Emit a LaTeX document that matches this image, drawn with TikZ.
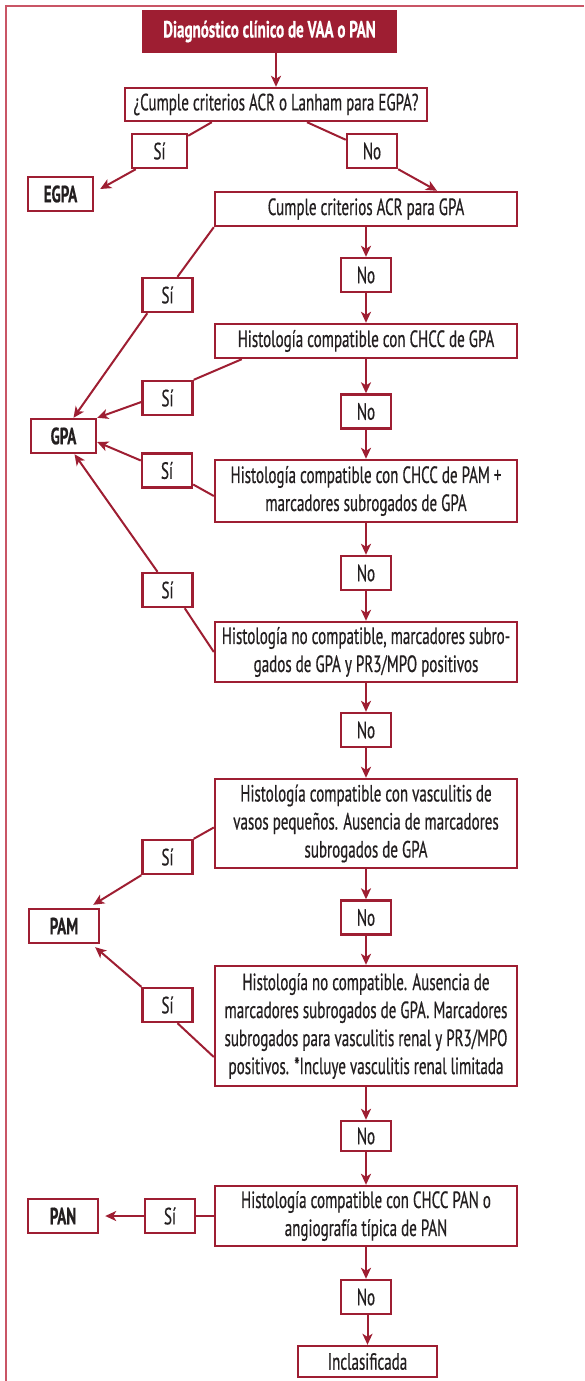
\documentclass[tikz,border=0pt]{standalone}
\usepackage{fontspec}
\setmainfont{PT Sans}[FakeStretch=0.64, FakeBold=0.5]
\usepackage{tikz}
\usetikzlibrary{calc, arrows.meta}
\definecolor{vred}{HTML}{9E1E32}
\definecolor{fred}{HTML}{C95566}
\definecolor{ink}{HTML}{231F20}

\begin{document}
\begin{tikzpicture}[x=1pt, y=-1pt,
  box/.style={draw=vred, line width=2.4pt, fill=white, text=ink, align=center, inner sep=0pt, font=\fontsize{23.5}{28}\selectfont},
  crit/.style={box, minimum width=302pt},
  yn/.style={box, minimum width=50pt, minimum height=34pt},
  res/.style={box, minimum height=34pt, font=\fontsize{23.5}{28}\selectfont\bfseries},
  link/.style={vred, line width=2pt},
  arr/.style={link, -{Stealth[length=11pt, width=10pt, inset=3pt]}}]
\useasboundingbox (0,0) rectangle (584,1381);
\draw[fred, line width=1.5pt] (584,6) -- (6,6) -- (6,1381);

\node[box, fill=vred, text=white, minimum width=253pt, minimum height=41pt, font=\fontsize{23.5}{28}\selectfont\bfseries] (title) at (269.5,31.5) {Diagnóstico clínico de VAA o PAN};
\node[crit, minimum height=33pt] (q) at (276,104.5) {¿Cumple criterios ACR o Lanham para EGPA?};
\node[yn, minimum width=55pt] (si1) at (159.5,151) {Sí};
\node[yn] (no1) at (372,151) {No};
\node[res, minimum width=65pt] (egpa) at (60.5,194) {EGPA};
\node[crit, minimum height=34pt] (acr) at (366,209) {Cumple criterios ACR para GPA};
\node[yn] (no2) at (366,275) {No};
\node[crit, minimum height=34pt] (h1) at (366,341) {Histología compatible con CHCC de GPA};
\node[yn] (no3) at (366,411.5) {No};
\node[crit, minimum height=62pt] (h2) at (366,491) {Histología compatible con CHCC de PAM +\\marcadores subrogados de GPA};
\node[yn] (no4) at (366,573) {No};
\node[crit, minimum height=60pt] (h3) at (366,652) {Histología no compatible, marcadores subro-\\gados de GPA y PR3/MPO positivos};
\node[yn] (no5) at (366,730) {No};
\node[crit, minimum height=89pt] (h4) at (366,823.5) {Histología compatible con vasculitis de\\vasos pequeños. Ausencia de marcadores\\subrogados de GPA};
\node[yn] (no6) at (366,917.5) {No};
\node[crit, minimum height=120pt] (h5) at (366,1026) {Histología no compatible. Ausencia de\\marcadores subrogados de GPA. Marcadores\\subrogados para vasculitis renal y PR3/MPO\\positivos. *Incluye vasculitis renal limitada};
\node[yn, minimum height=30pt] (no7) at (366,1136) {No};
\node[crit, minimum height=60pt] (h6) at (366,1216) {Histología compatible con CHCC PAN o\\angiografía típica de PAN};
\node[yn] (no8) at (366,1297) {No};
\node[box, minimum width=139pt, minimum height=31pt] (incl) at (367.5,1361.5) {Inclasificada};

\node[yn] (si2) at (167.5,295) {Sí};
\node[yn] (si3) at (167.5,398) {Sí};
\node[yn] (si4) at (167,470.5) {Sí};
\node[yn] (si5) at (167.5,590) {Sí};
\node[yn] (si6) at (167.5,857) {Sí};
\node[yn] (si7) at (167.5,1005) {Sí};
\node[yn] (si8) at (170,1216) {Sí};
\node[res, minimum width=65pt] (gpa) at (63.5,436) {GPA};
\node[res, minimum width=70pt] (pam) at (64,926) {PAM};
\node[res, minimum width=70pt] (pan) at (63,1216) {PAN};

\draw[arr] (q.north |- title.south) -- (q.north);
\draw[link] ([xshift=88pt]q.south west) -- ([yshift=-3pt]si1.north east);
\draw[arr] ([xshift=5pt]si1.south west) -- ([xshift=6pt,yshift=5pt]egpa.east);
\draw[link] ([xshift=31pt]q.south) -- ([yshift=-7pt]no1.north west);
\draw[arr] (no1.south east) -- ([xshift=71pt]acr.north);

\foreach \a/\b in {acr/no2, no2/h1, h1/no3, no3/h2, h2/no4, no4/h3, h3/no5, no5/h4, h4/no6, no6/h5, h5/no7, no7/h6, h6/no8, no8/incl}
  \draw[arr] (\b.north |- \a.south) -- (\b.north);

\draw[link] (acr.south west) -- ([xshift=10pt]si2.north);
\draw[arr] ([xshift=6pt]si2.south west) -- ([xshift=10pt]gpa.north);
\draw[link] ([xshift=28pt]h1.south west) -- (si3.north east);
\draw[arr] ([yshift=-4pt]si3.west) -- (gpa.north east);
\draw[link] ([yshift=-5pt]h2.west) -- ([yshift=-14pt]si4.east);
\draw[arr] ([yshift=10pt]si4.west) -- ([yshift=-6pt]gpa.east);
\draw[link] (h3.west) -- ([xshift=-9pt]si5.south east);
\draw[arr] ([xshift=-10pt]si5.north) -- ([xshift=11pt]gpa.south);
\draw[link] ([yshift=-4pt]h4.west) -- (si6.north east);
\draw[arr] (si6.south west) -- ([xshift=-7pt,yshift=3pt]pam.north east);
\draw[link] ([yshift=-31pt]h5.west) -- ([xshift=10pt]si7.south);
\draw[arr] (si7.north west) -- ([xshift=-5pt,yshift=-3pt]pam.south east);
\draw[link] (h6.west) -- (si8.east);
\draw[arr] (si8.west) -- ([xshift=6pt]pan.east);
\end{tikzpicture}
\end{document}
